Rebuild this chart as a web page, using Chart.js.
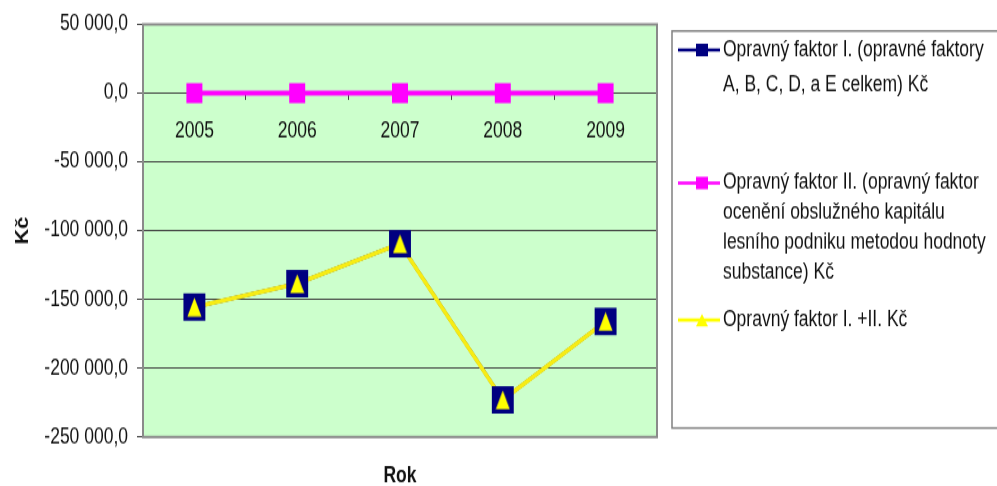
<!DOCTYPE html>
<html>
<head>
<meta charset="utf-8">
<script src="https://cdn.jsdelivr.net/npm/chart.js@4.4.1/dist/chart.umd.min.js"></script>
<style>
  html, body { margin: 0; padding: 0; background: #fff; overflow: hidden; }
  /* the chart is laid out at a lower height and stretched vertically to 486px */
  #wrap { position: absolute; left: 0; top: 0; width: 997px; height: 389px;
          transform: scaleY(1.249357); transform-origin: 0 0; }
</style>
</head>
<body>
<div id="wrap"><canvas id="chart"></canvas></div>
<script>
// ---- data ----
const categories = ['2005', '2006', '2007', '2008', '2009'];
const faktorI = [-155500, -138500, -109500, -223000, -166000];
const faktorII = [0, 0, 0, 0, 0];
const faktorSoucet = [-155500, -138500, -109500, -223000, -166000];
const yTickValues = [-250000, -200000, -150000, -100000, -50000, 0, 50000];
const yTickLabels = ['-250 000,0', '-200 000,0', '-150 000,0', '-100 000,0', '-50 000,0', '0,0', '50 000,0'];
const seriesNames = [
  'Opravný faktor I. (opravné faktory A, B, C, D, a E celkem) Kč',
  'Opravný faktor II. (opravný faktor ocenění obslužného kapitálu lesního podniku metodou hodnoty substance) Kč',
  'Opravný faktor I. +II. Kč'
];
const legendLines = [
  ['Opravný faktor I. (opravné faktory', 'A, B, C, D, a E celkem) Kč'],
  ['Opravný faktor II. (opravný faktor', 'ocenění obslužného kapitálu', 'lesního podniku metodou hodnoty', 'substance) Kč'],
  ['Opravný faktor I. +II. Kč']
];

// ---- styling ----
const S = 486 / 389;            // vertical stretch of the wrapper
const H = 389;                  // layout height before stretching
const NAVY = '#000080';
const MAGENTA = '#FF00FF';
const YELLOW = '#FFFF00';
const YELLOW_LINE = '#F7EC14';
const PLOT_BG = '#CCFFCC';
const TEXT = '#111111';
const FONT = "'Liberation Sans', Arial, Helvetica, sans-serif";

Chart.defaults.font.family = FONT;
Chart.defaults.font.size = 17.5;
Chart.defaults.color = TEXT;

function triangleMarker(w, h, color) {
  const c = document.createElement('canvas');
  c.width = w; c.height = h;
  const g = c.getContext('2d');
  g.fillStyle = color;
  g.beginPath();
  g.moveTo(w / 2, 0.5);
  g.lineTo(w - 0.5, h - 0.5);
  g.lineTo(0.5, h - 0.5);
  g.closePath();
  g.fill();
  return c;
}
const triMarker = triangleMarker(15, 16, YELLOW);

// plot background and frame
const plotFrame = {
  id: 'plotFrame',
  beforeDraw(chart) {
    const a = chart.chartArea, ctx = chart.ctx;
    ctx.save();
    ctx.fillStyle = PLOT_BG;
    ctx.fillRect(a.left, a.top, a.right - a.left, a.bottom - a.top);
    ctx.restore();
  },
  beforeDatasetsDraw(chart) {
    const a = chart.chartArea, ctx = chart.ctx;
    ctx.save();
    ctx.strokeStyle = '#8a8a8a';
    ctx.lineWidth = 2;
    ctx.strokeRect(a.left, a.top, a.right - a.left, a.bottom - a.top);
    ctx.restore();
  }
};

// boxed legend on the right with wrapped entries
const boxLegend = {
  id: 'boxLegend',
  afterDraw(chart) {
    const ctx = chart.ctx;
    const rows = [[50, 85], [183, 213, 243, 272], [320]];
    const x0 = 678, x1 = 720, mx = 702, tx = 723;
    ctx.save();
    ctx.strokeStyle = '#808080';
    ctx.lineWidth = 1.5;
    ctx.strokeRect(672, 31 / S, 340, (428 - 31) / S);

    const colors = [NAVY, MAGENTA, YELLOW];
    legendLines.forEach((lines, i) => {
      const y = rows[i][0] / S;
      ctx.strokeStyle = colors[i];
      ctx.lineWidth = 2.6;
      ctx.beginPath();
      ctx.moveTo(x0, y);
      ctx.lineTo(x1, y);
      ctx.stroke();
      ctx.fillStyle = colors[i];
      if (i < 2) {
        ctx.fillRect(mx - 6, y - 5, 12, 10);
      } else {
        ctx.beginPath();
        ctx.moveTo(mx, y - 5);
        ctx.lineTo(mx + 6, y + 5);
        ctx.lineTo(mx - 6, y + 5);
        ctx.closePath();
        ctx.fill();
      }
      ctx.fillStyle = TEXT;
      ctx.font = '17.5px ' + FONT;
      ctx.textAlign = 'left';
      ctx.textBaseline = 'middle';
      lines.forEach((t, j) => ctx.fillText(t, tx, rows[i][j] / S));
    });
    ctx.restore();
  }
};

new Chart(document.getElementById('chart'), {
  type: 'line',
  data: {
    labels: categories,
    // first dataset is painted last (on top)
    datasets: [
      { label: seriesNames[2], data: faktorSoucet, showLine: false,
        pointStyle: triMarker, pointRadius: 8, clip: false },
      { label: seriesNames[0], data: faktorI, showLine: false,
        pointStyle: 'rect', pointRadius: 15.5, pointBackgroundColor: NAVY,
        pointBorderWidth: 0, clip: false },
      { label: seriesNames[2], data: faktorSoucet, borderColor: YELLOW_LINE,
        borderWidth: 3.6, pointRadius: 0, tension: 0 },
      { label: seriesNames[1], data: faktorII, borderColor: MAGENTA, borderWidth: 4,
        pointStyle: 'rect', pointRadius: 11.3, pointBackgroundColor: MAGENTA,
        pointBorderWidth: 0, tension: 0, clip: false },
      { label: seriesNames[0], data: faktorI, borderColor: NAVY, borderWidth: 3,
        pointRadius: 0, tension: 0 }
    ]
  },
  options: {
    responsive: true,
    maintainAspectRatio: false,
    animation: false,
    devicePixelRatio: 1,
    events: [],
    layout: { padding: { top: 23 / S, right: 997 - 657, bottom: 0, left: 0 } },
    plugins: { legend: { display: false }, tooltip: { enabled: false } },
    scales: {
      x: {
        type: 'category',
        position: { y: 0 },
        offset: true,
        grid: { drawOnChartArea: false, offset: true, tickLength: 5, color: '#404040' },
        border: { display: false },
        ticks: { color: TEXT, padding: 15, maxRotation: 0, autoSkip: false }
      },
      x2: {
        type: 'category',
        position: 'bottom',
        offset: true,
        grid: { display: false },
        border: { display: false },
        ticks: { display: false },
        title: { display: true, text: 'Rok', color: TEXT,
                 font: { size: 17.5, weight: 'bold', lineHeight: 0.85 },
                 padding: { top: 0, bottom: 0 } },
        afterFit(s) { s.height = H - 437 / S; }
      },
      y: {
        type: 'linear',
        position: 'left',
        min: -250000,
        max: 50000,
        afterBuildTicks(s) { s.ticks = yTickValues.map(v => ({ value: v })); },
        afterFit(s) { s.width = 143; },
        grid: { color: '#404040', lineWidth: 1, tickLength: 6 },
        border: { display: false },
        ticks: { color: TEXT, padding: 9, autoSkip: false,
                 callback: v => yTickLabels[yTickValues.indexOf(v)] },
        title: { display: true, text: 'Kč', color: TEXT,
                 font: { size: 17.5, weight: 'bold' },
                 padding: { top: 12.5, bottom: 0 } }
      }
    }
  },
  plugins: [plotFrame, boxLegend]
});
</script>
</body>
</html>
